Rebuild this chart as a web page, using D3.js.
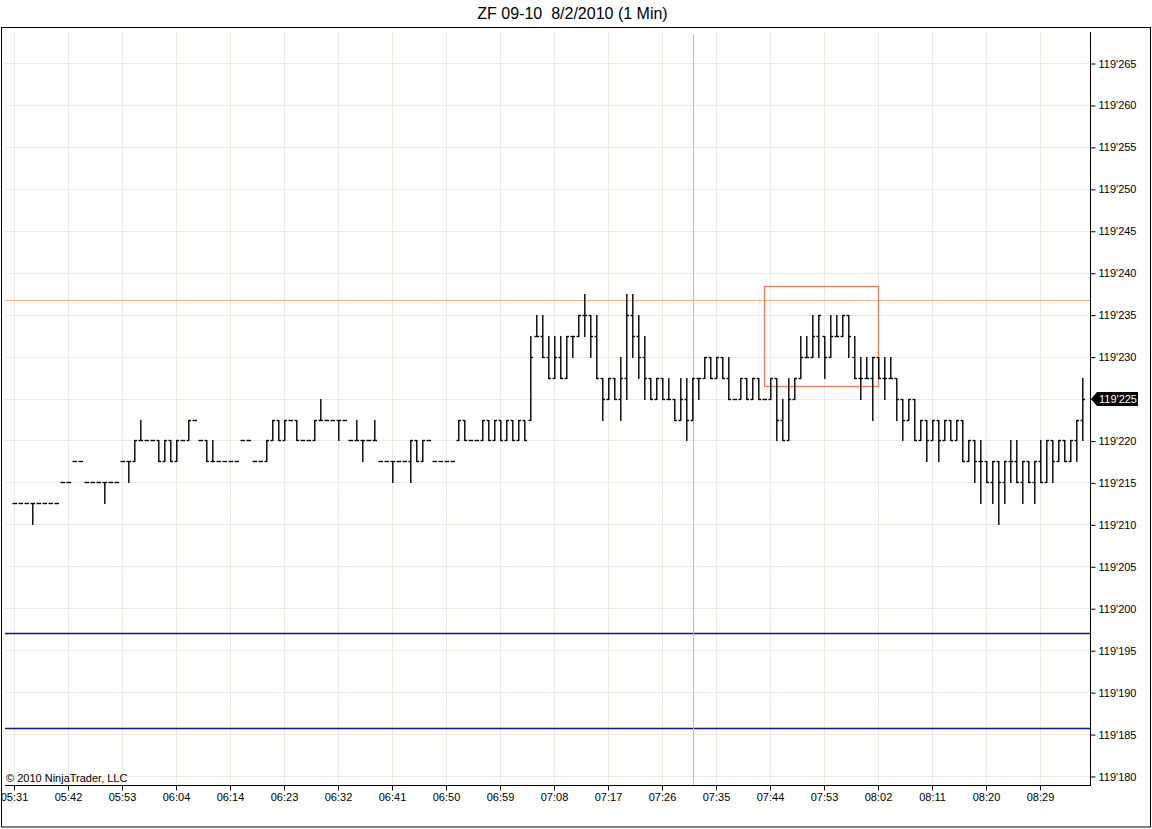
<!DOCTYPE html>
<html>
<head>
<meta charset="utf-8">
<script src="https://cdn.jsdelivr.net/npm/d3@7"></script>
<style>
  body { margin: 0; background: #fff; }
  svg { display: block; font-family: "Liberation Sans", Arial, sans-serif; }
</style>
</head>
<body>
<svg id="chart" width="1152" height="829"></svg>
<script>
// bar times (1 min bars, a few empty minutes early in the session)
const times = ("05:31 05:32 05:33 05:34 05:36 05:37 05:38 05:39 05:41 05:42 " +
  "05:43 05:44 05:46 05:47 05:48 05:50 05:51 05:52 05:53 05:54 " +
  "05:55 05:57 05:58 05:59 06:00 06:02 06:03 06:04 06:05 06:06 " +
  "06:07 06:08 06:10 06:11 06:12 06:13 06:14 06:15 06:16 06:17 " +
  "06:18 06:19 06:20 06:21 06:22 06:23 06:24 06:25 06:26 06:27 " +
  "06:28 06:29 06:30 06:31 06:32 06:33 06:34 06:35 06:36 06:37 " +
  "06:38 06:39 06:40 06:41 06:42 06:43 06:44 06:45 06:46 06:47 " +
  "06:48 06:49 06:50 06:51 06:52 06:53 06:54 06:55 06:56 06:57 " +
  "06:58 06:59 07:00 07:01 07:02 07:03 07:04 07:05 07:06 07:07 " +
  "07:08 07:09 07:10 07:11 07:12 07:13 07:14 07:15 07:16 07:17 " +
  "07:18 07:19 07:20 07:21 07:22 07:23 07:24 07:25 07:26 07:27 " +
  "07:28 07:29 07:30 07:31 07:32 07:33 07:34 07:35 07:36 07:37 " +
  "07:38 07:39 07:40 07:41 07:42 07:43 07:44 07:45 07:46 07:47 " +
  "07:48 07:49 07:50 07:51 07:52 07:53 07:54 07:55 07:56 07:57 " +
  "07:58 07:59 08:00 08:01 08:02 08:03 08:04 08:05 08:06 08:07 " +
  "08:08 08:09 08:10 08:11 08:12 08:13 08:14 08:15 08:16 08:17 " +
  "08:18 08:19 08:20 08:21 08:22 08:23 08:24 08:25 08:26 08:27 " +
  "08:28 08:29 08:30 08:31 08:32 08:33 08:34 08:35 08:36").split(" ");

// prices in 32nds x10 after the "119'" handle (e.g. 225 -> 119'225)
const open = [
  212.5,212.5,212.5,212.5,212.5,212.5,212.5,212.5,215,215,
  217.5,217.5,215,215,215,215,215,215,217.5,217.5,
  217.5,220,220,220,220,217.5,220,217.5,220,220,
  222.5,220,220,217.5,217.5,217.5,217.5,217.5,220,220,
  217.5,217.5,217.5,220,222.5,220,222.5,222.5,220,220,
  220,222.5,222.5,222.5,222.5,222.5,220,220,220,220,
  220,217.5,217.5,217.5,217.5,217.5,217.5,220,217.5,220,
  217.5,217.5,217.5,217.5,220,222.5,220,220,220,222.5,
  220,222.5,220,222.5,220,222.5,222.5,232.5,232.5,230,
  227.5,230,227.5,232.5,232.5,235,235,232.5,227.5,225,
  227.5,225,227.5,235,232.5,230,227.5,225,227.5,225,
  225,222.5,225,222.5,227.5,227.5,230,227.5,230,227.5,
  225,225,227.5,225,227.5,225,225,227.5,222.5,220,
  225,227.5,230,230,232.5,232.5,230,232.5,232.5,235,
  230,227.5,227.5,227.5,230,227.5,227.5,227.5,225,222.5,
  225,220,222.5,220,222.5,220,222.5,220,222.5,217.5,
  220,217.5,217.5,215,217.5,215,217.5,217.5,215,217.5,
  215,217.5,215,220,217.5,220,217.5,220,222.5
];
const high = [
  212.5,212.5,212.5,212.5,212.5,212.5,212.5,212.5,215,215,
  217.5,217.5,215,215,215,215,215,215,217.5,217.5,
  220,222.5,220,220,220,220,220,220,220,222.5,
  222.5,220,220,220,217.5,217.5,217.5,217.5,220,220,
  217.5,217.5,220,222.5,222.5,222.5,222.5,222.5,220,220,
  222.5,225,222.5,222.5,222.5,222.5,220,222.5,220,220,
  222.5,217.5,217.5,217.5,217.5,217.5,220,220,220,220,
  217.5,217.5,217.5,217.5,222.5,222.5,220,220,222.5,222.5,
  222.5,222.5,222.5,222.5,222.5,222.5,232.5,235,235,232.5,
  232.5,232.5,232.5,232.5,235,237.5,235,235,227.5,227.5,
  227.5,230,237.5,237.5,235,232.5,227.5,227.5,227.5,227.5,
  225,227.5,227.5,227.5,227.5,230,230,230,230,230,
  225,227.5,227.5,227.5,227.5,225,227.5,227.5,225,227.5,
  227.5,232.5,232.5,235,235,232.5,235,235,235,235,
  232.5,230,230,230,230,230,230,227.5,225,225,
  225,222.5,222.5,222.5,222.5,222.5,222.5,222.5,222.5,220,
  220,220,217.5,217.5,217.5,217.5,220,220,217.5,217.5,
  217.5,220,220,220,220,220,220,222.5,227.5
];
const low = [
  212.5,212.5,212.5,210,212.5,212.5,212.5,212.5,215,215,
  217.5,217.5,215,215,215,212.5,215,215,217.5,215,
  217.5,220,220,220,217.5,217.5,217.5,217.5,220,220,
  222.5,220,217.5,217.5,217.5,217.5,217.5,217.5,220,220,
  217.5,217.5,217.5,220,220,220,222.5,220,220,220,
  220,222.5,222.5,222.5,220,222.5,220,220,217.5,220,
  220,217.5,217.5,215,217.5,217.5,215,217.5,217.5,220,
  217.5,217.5,217.5,217.5,220,220,220,220,220,220,
  220,220,220,220,220,220,222.5,232.5,230,227.5,
  227.5,227.5,227.5,230,232.5,232.5,230,227.5,222.5,225,
  225,222.5,225,230,227.5,225,225,225,225,225,
  222.5,222.5,220,222.5,225,227.5,227.5,227.5,227.5,225,
  225,225,225,225,225,225,225,220,220,220,
  225,227.5,230,230,230,227.5,230,232.5,232.5,230,
  227.5,225,227.5,222.5,227.5,225,227.5,222.5,220,222.5,
  220,220,217.5,220,217.5,220,220,220,217.5,217.5,
  215,212.5,215,212.5,210,212.5,215,215,212.5,215,
  212.5,215,215,215,217.5,217.5,217.5,217.5,220
];
const close = [
  212.5,212.5,212.5,212.5,212.5,212.5,212.5,212.5,215,215,
  217.5,217.5,215,215,215,215,215,215,217.5,217.5,
  220,220,220,220,217.5,220,217.5,220,220,222.5,
  222.5,220,217.5,217.5,217.5,217.5,217.5,217.5,220,220,
  217.5,217.5,220,222.5,220,222.5,222.5,220,220,220,
  222.5,222.5,222.5,222.5,222.5,222.5,220,220,220,220,
  220,217.5,217.5,217.5,217.5,217.5,220,217.5,220,220,
  217.5,217.5,217.5,217.5,222.5,220,220,220,222.5,220,
  222.5,220,222.5,220,222.5,220,230,232.5,230,227.5,
  230,227.5,232.5,232.5,235,235,232.5,227.5,225,227.5,
  225,227.5,235,232.5,230,227.5,225,227.5,225,225,
  222.5,225,222.5,227.5,227.5,230,227.5,230,227.5,225,
  225,227.5,225,227.5,225,225,227.5,222.5,220,225,
  227.5,230,230,232.5,235,230,232.5,232.5,235,232.5,
  227.5,227.5,227.5,230,227.5,227.5,227.5,225,222.5,225,
  220,222.5,220,222.5,220,222.5,220,222.5,217.5,220,
  217.5,217.5,215,217.5,215,217.5,217.5,215,217.5,215,
  217.5,215,220,217.5,220,217.5,220,222.5,225
];

const xTicks = ["05:31","05:42","05:53","06:04","06:14","06:23","06:32","06:41","06:50","06:59",
  "07:08","07:17","07:26","07:35","07:44","07:53","08:02","08:11","08:20","08:29"];
const yTicks = [180,185,190,195,200,205,210,215,220,225,230,235,240,245,250,255,260,265];

// drawing objects on the chart
const hLevel = 236.75;            // orange horizontal line
const blueLevels = [197.0, 185.75];
const cursorTime = "07:31";
const boxTimes = ["07:43", "08:02"];
const boxPrices = [238.4, 226.5];

const title = "ZF 09-10  8/2/2010 (1 Min)";
const fmt = d => "119'" + d;

const plot = {left: 5, right: 1090, top: 32, bottom: 785};

const svg = d3.select("#chart");

const x = d3.scalePoint().domain(times).range([14.5, 1082.5]);
const y = d3.scaleLinear().domain([180, 265]).range([776, 63]);
const py = v => Math.round(y(v)) + 0.5;

// outer frame
svg.append("rect")
  .attr("x", 1.5).attr("y", 27.5).attr("width", 1149).attr("height", 799.5)
  .attr("fill", "none").attr("stroke", "#000").attr("stroke-width", 1);

svg.append("text")
  .attr("x", 572.5).attr("y", 19)
  .attr("text-anchor", "middle")
  .attr("font-size", 16)
  .style("white-space", "pre")
  .text(title);

// grid
const grid = svg.append("g").attr("stroke", "#ece9e1").attr("stroke-width", 1).attr("shape-rendering", "crispEdges");
grid.selectAll(".gx").data(xTicks).join("line")
  .attr("x1", d => Math.floor(x(d)) + 0.5).attr("x2", d => Math.floor(x(d)) + 0.5)
  .attr("y1", plot.top).attr("y2", plot.bottom);
grid.selectAll(".gy").data(yTicks).join("line")
  .attr("x1", plot.left).attr("x2", plot.right)
  .attr("y1", d => py(d)).attr("y2", d => py(d));

// drawn objects
svg.append("line")
  .attr("x1", plot.left).attr("x2", plot.right)
  .attr("y1", py(hLevel)).attr("y2", py(hLevel))
  .attr("stroke", "#f0b48c").attr("shape-rendering", "crispEdges");

svg.selectAll(".blue").data(blueLevels).join("line")
  .attr("x1", plot.left).attr("x2", plot.right)
  .attr("y1", d => py(d)).attr("y2", d => py(d))
  .attr("stroke", "#14148c").attr("stroke-width", 1.3);

svg.append("line")
  .attr("x1", Math.floor(x(cursorTime)) + 1.5).attr("x2", Math.floor(x(cursorTime)) + 1.5)
  .attr("y1", 35).attr("y2", plot.bottom)
  .attr("stroke", "#bdbdbd").attr("shape-rendering", "crispEdges");

svg.append("rect")
  .attr("x", Math.floor(x(boxTimes[0])) + 0.5)
  .attr("y", py(boxPrices[0]))
  .attr("width", Math.round(x(boxTimes[1]) - x(boxTimes[0])))
  .attr("height", py(boxPrices[1]) - py(boxPrices[0]))
  .attr("fill", "none").attr("stroke", "#e8805a").attr("stroke-width", 1.3);

// OHLC bars
const bars = times.map((t, i) => ({t, o: open[i], h: high[i], l: low[i], c: close[i]}));
const g = svg.append("g").attr("stroke", "#000").attr("stroke-width", 1.4);
g.selectAll(".hl").data(bars).join("line")
  .attr("x1", d => x(d.t) + 0.3).attr("x2", d => x(d.t) + 0.3)
  .attr("y1", d => py(d.h) - 0.5).attr("y2", d => py(d.l) + 0.5);
g.selectAll(".op").data(bars).join("line")
  .attr("x1", d => x(d.t) - 2).attr("x2", d => x(d.t))
  .attr("y1", d => py(d.o)).attr("y2", d => py(d.o));
g.selectAll(".cl").data(bars).join("line")
  .attr("x1", d => x(d.t)).attr("x2", d => x(d.t) + 2.5)
  .attr("y1", d => py(d.c)).attr("y2", d => py(d.c));

// axes
svg.append("line").attr("x1", plot.right + 0.5).attr("x2", plot.right + 0.5)
  .attr("y1", plot.top).attr("y2", plot.bottom + 0.5).attr("stroke", "#000");
svg.append("line").attr("x1", plot.left).attr("x2", plot.right + 1)
  .attr("y1", plot.bottom + 0.5).attr("y2", plot.bottom + 0.5).attr("stroke", "#000");

const yAxis = svg.append("g")
  .attr("transform", `translate(${plot.right + 0.5},0.5)`)
  .call(d3.axisRight(y).tickValues(yTicks).tickFormat(fmt).tickSize(5).tickPadding(3));
const xAxis = svg.append("g")
  .attr("transform", `translate(0.5,${plot.bottom + 0.5})`)
  .call(d3.axisBottom(x).tickValues(xTicks).tickSize(5).tickPadding(3));
[yAxis, xAxis].forEach(a => {
  a.select(".domain").remove();
  a.selectAll("text").attr("font-size", 11).attr("font-family", "\"Liberation Sans\", Arial, sans-serif").attr("fill", "#000");
  a.selectAll(".tick line").attr("stroke", "#000");
});
xAxis.selectAll(".tick").attr("transform", d => `translate(${Math.floor(x(d))},0)`);

// last price marker
const last = close[close.length - 1];
const ly = py(last) - 0.5;
svg.append("path")
  .attr("d", `M${plot.right + 1},${ly} L${plot.right + 7},${ly - 7} L1138,${ly - 7} L1138,${ly + 7} L${plot.right + 7},${ly + 7} Z`)
  .attr("fill", "#000");
svg.append("text")
  .attr("x", 1099).attr("y", ly + 4)
  .attr("font-size", 11).attr("fill", "#fff")
  .text(fmt(last));

svg.append("text")
  .attr("x", 6).attr("y", 782)
  .attr("font-size", 11)
  .text("\u00a9 2010 NinjaTrader, LLC");
</script>
</body>
</html>
